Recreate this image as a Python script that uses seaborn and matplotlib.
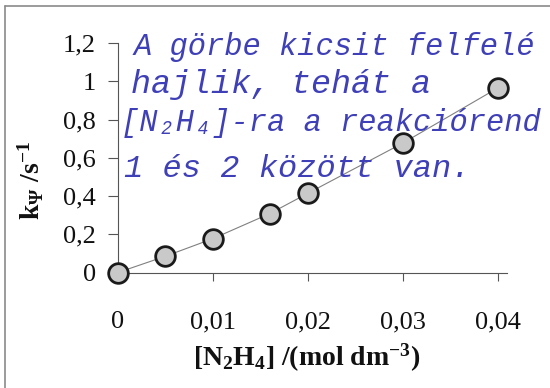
import matplotlib
matplotlib.use("Agg")
import matplotlib.pyplot as plt
from matplotlib.lines import Line2D
import seaborn as sns
import pandas as pd

# Hydrazine concentration (mol dm^-3) and observed rate constant k_psi (s^-1)
conc = [0, 0.005, 0.01, 0.016, 0.02, 0.03, 0.04]
k_psi = [0, 0.085, 0.177, 0.308, 0.414, 0.676, 0.964]

x_ticks = [0, 0.01, 0.02, 0.03, 0.04]
x_tick_labels = ["0", "0,01", "0,02", "0,03", "0,04"]
y_ticks = [0, 0.2, 0.4, 0.6, 0.8, 1.0, 1.2]
y_tick_labels = ["0", "0,2", "0,4", "0,6", "0,8", "1", "1,2"]

note_lines = [
    "A görbe kicsit felfelé",
    "hajlik, tehát a",
    "[N₂H₄]-ra a reakciórend",
    "1 és 2 között van.",
]

sns.set_theme(style="ticks")
plt.rcParams["font.family"] = ["Liberation Serif", "DejaVu Serif"]
plt.rcParams["mathtext.fontset"] = "custom"
plt.rcParams["mathtext.rm"] = "Liberation Serif:bold"
plt.rcParams["mathtext.it"] = "Liberation Serif:bold"
plt.rcParams["mathtext.bf"] = "Liberation Serif:bold"

df = pd.DataFrame({"conc": conc, "k": k_psi})

W, H = 550, 388
fig = plt.figure(figsize=(W / 100, H / 100), dpi=100)
fig.patch.set_facecolor("white")
ax = fig.add_axes([118 / W, 1 - 272.5 / H, (507 - 118) / W, (272.5 - 43) / H])
ax.set_facecolor("none")

sns.lineplot(data=df, x="conc", y="k", ax=ax, color="#808080", linewidth=0.8,
             zorder=2)
sns.scatterplot(data=df, x="conc", y="k", ax=ax, s=200, color="#c9c9c9",
                edgecolor="#1a1a1a", linewidth=2.0, zorder=3, clip_on=False)

ax.set_xlim(0, 0.041)
ax.set_ylim(0, 1.2)
ax.set_xticks(x_ticks)
ax.set_xticklabels(x_tick_labels)
ax.set_yticks(y_ticks)
ax.set_yticklabels(y_tick_labels)
ax.tick_params(axis="y", direction="out", length=7, width=0.8, color="#555555",
               labelsize=19, pad=9, labelcolor="#111111")
ax.tick_params(axis="x", direction="out", length=6, width=0.8, color="#555555",
               labelsize=19, pad=22, labelcolor="#111111")
for side in ("top", "right"):
    ax.spines[side].set_visible(False)
for side in ("left", "bottom"):
    ax.spines[side].set_color("#555555")
    ax.spines[side].set_linewidth(0.8)

ax.set_xlabel(r"[N$_2$H$_4$] /(mol dm$^{-3}$)", fontsize=20, fontweight="bold",
              color="#111111")
ax.xaxis.set_label_coords(0.485, -0.30)
ax.set_ylabel(r"k$_{Ψ}$ /s$^{-1}$", fontsize=20, fontweight="bold",
              color="#111111")
ax.yaxis.set_label_coords(-0.185, 0.40)

# Page frame
fig.add_artist(Line2D([5 / W, 1], [1 - 6 / H, 1 - 6 / H], transform=fig.transFigure,
                      color="#8a8a8a", linewidth=1.2))
fig.add_artist(Line2D([5 / W, 5 / W], [0, 1 - 6 / H], transform=fig.transFigure,
                      color="#8a8a8a", linewidth=1.2))

# Handwritten note in blue ink
ink = "#3f40b8"
note_pos = [(134, 55, 22), (131, 93, 24), (121, 131, 22), (124, 177, 23)]
for text, (x, y, fs) in zip(note_lines, note_pos):
    fig.text(x / W, 1 - y / H, text, fontsize=fs, color=ink, va="baseline",
             ha="left", family=["Liberation Mono", "DejaVu Sans Mono"],
             style="italic")

fig.savefig("out.png", dpi=100, facecolor="white")
